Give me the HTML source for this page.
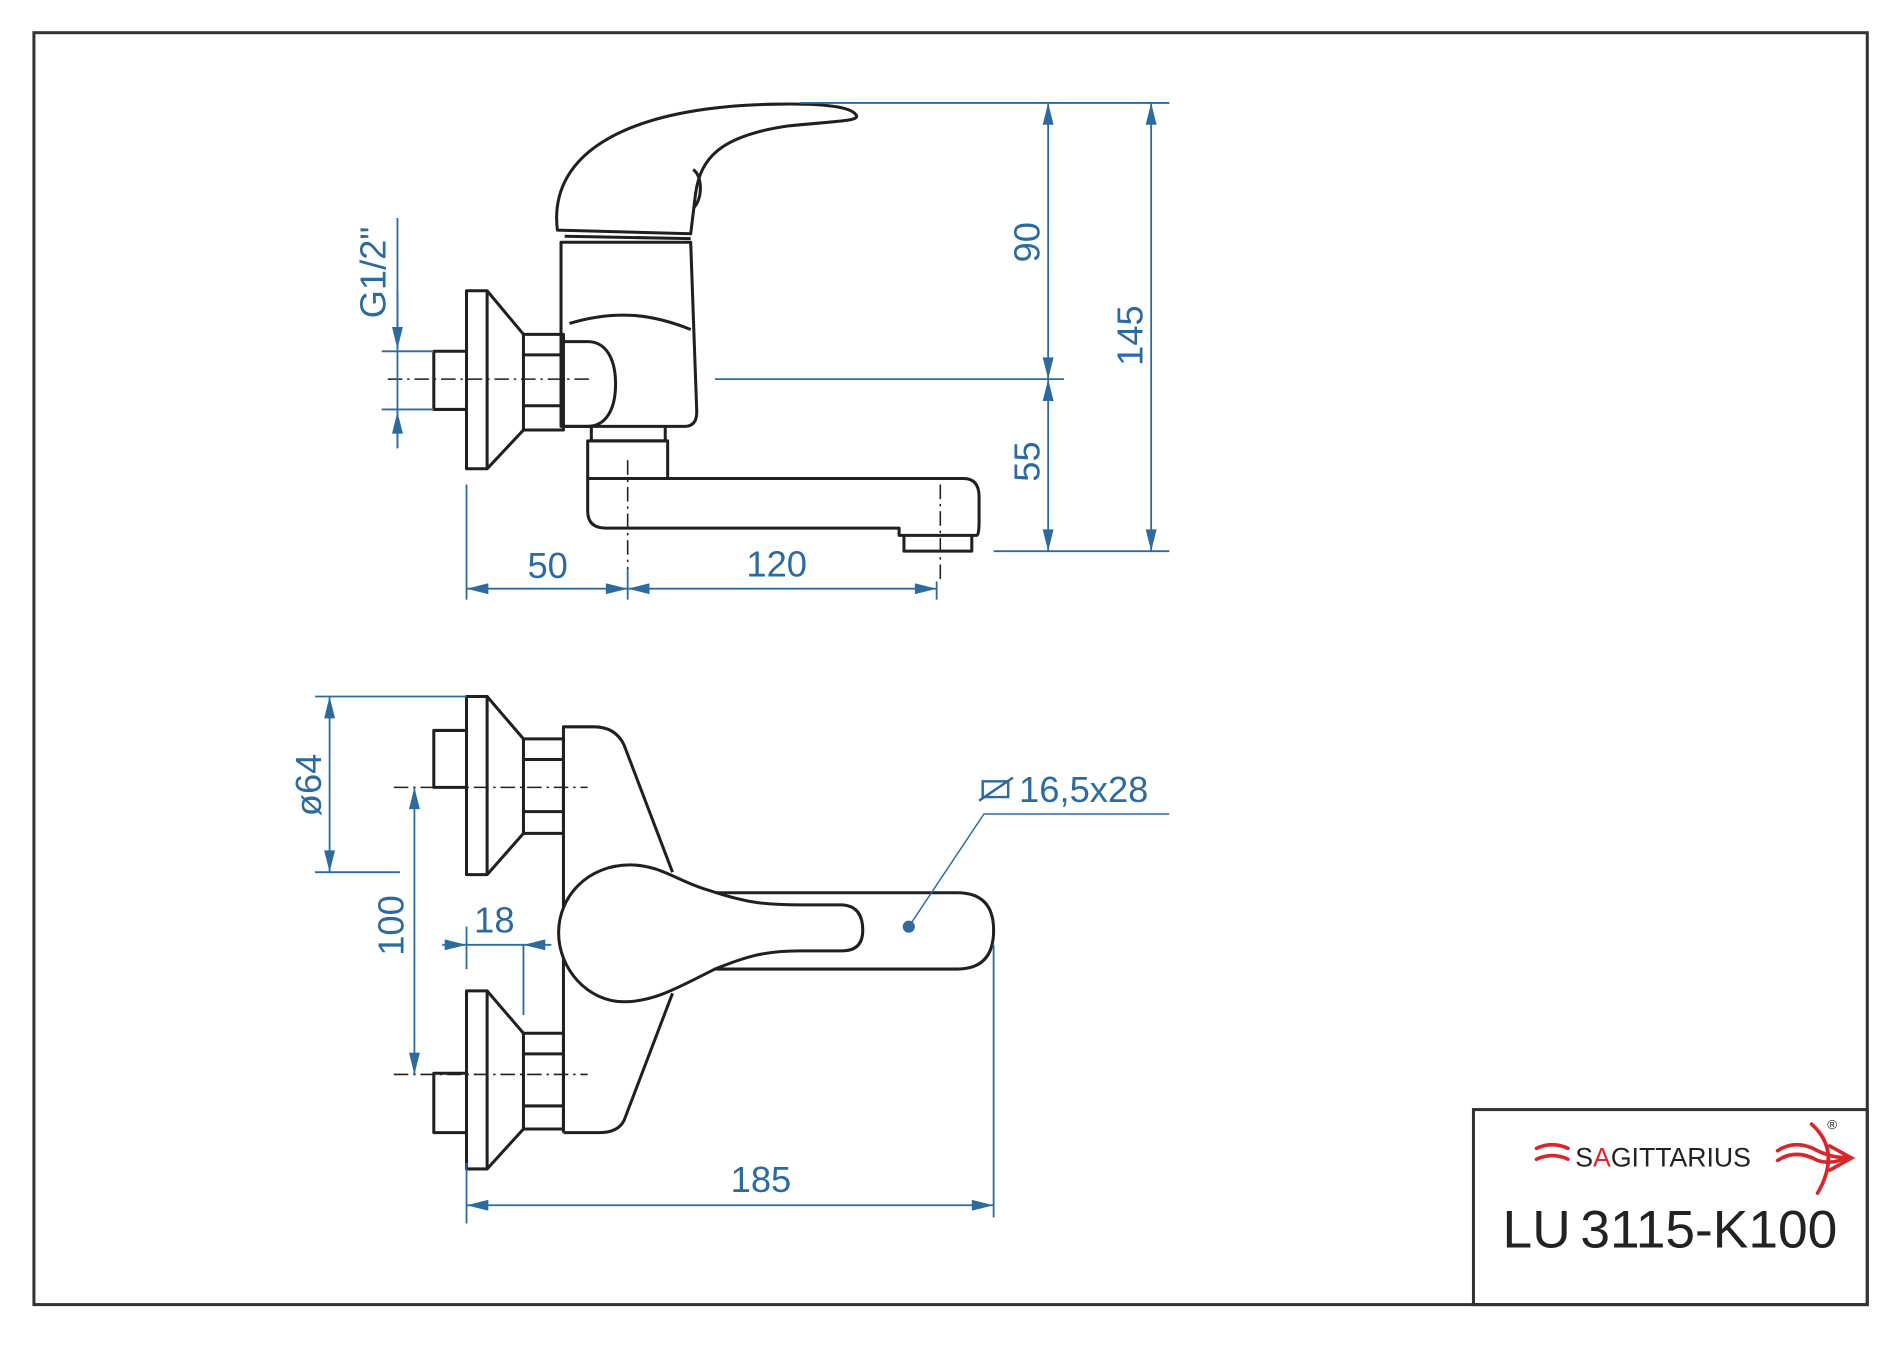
<!DOCTYPE html>
<html><head><meta charset="utf-8"><style>
html,body{margin:0;padding:0;background:#fff;}
svg{display:block;}
text{font-family:"Liberation Sans",Arial,sans-serif;}
</style></head><body>
<svg width="1900" height="1347" viewBox="0 0 1568 1112" preserveAspectRatio="none" xmlns="http://www.w3.org/2000/svg">
<defs>
<marker id="b" viewBox="0 0 20 10" refX="20" refY="5" markerWidth="20" markerHeight="9" orient="auto-start-reverse" markerUnits="userSpaceOnUse"><path d="M0,0L20,5L0,10z" fill="#2c6aa0"/></marker>
</defs>
<rect x="28" y="27" width="1513" height="1050" fill="none" stroke="#333" stroke-width="2.5"/>
<rect x="1216" y="916" width="325" height="161" fill="none" stroke="#333" stroke-width="2.5"/>

<g fill="none" stroke="#231f20" stroke-width="2.5" stroke-linejoin="round">
<!-- TOP VIEW -->
<path d="M460,190 C452,125 520,88 640,86 C690,85 705,90 707,96 C707,100 690,100 650,104 C595,112 578,130 574,160 L570,193 Z"/>
<path d="M572,140 C580,145 580,165 572,172"/>
<path d="M466,195 L570,197"/>
<path d="M463,200 L570,200 L575,340 Q575,352 565,352 L463,352 Z"/>
<path d="M470,267 C510,255 540,260 570,272"/>
<path d="M465,282 L485,282 C500,282 508,296 508,317 C508,338 500,352 485,352 L465,352"/>
<path d="M432,276 L465,276 L465,355 L432,355 Z M432,293 L465,293 M432,335 L465,335"/>
<path d="M385,240 L402,240 L402,387 L385,387 Z"/>
<path d="M402,240 L432,276 M402,387 L432,355"/>
<path d="M385,290 L358,290 L358,338 L385,338"/>
<path d="M488,352 L488,364 L549,364 L549,352"/>
<path d="M485,364 L551,364 L551,395 L485,395 Z"/>
<path d="M485,395 L485,422 Q485,436 500,436 L742,436 L742,442 L802,442 L806,442 Q808,442 808,430 L808,410 Q808,395 795,395 L551,395"/>
<path d="M746,442 L746,455 L802,455 L802,442"/>
<!-- BOTTOM VIEW -->
<path d="M385,575 L402,575 L402,722 L385,722 Z"/>
<path d="M402,575 L432,610 M402,722 L432,688"/>
<path d="M432,610 L465,610 L465,688 L432,688 Z M432,627 L465,627 M432,670 L465,670"/>
<path d="M385,603 L358,603 L358,650 L385,650"/>
<path d="M385,818 L402,818 L402,965 L385,965 Z"/>
<path d="M402,818 L432,853 M402,965 L432,932"/>
<path d="M432,853 L465,853 L465,932 L432,932 Z M432,870 L465,870 M432,913 L465,913"/>
<path d="M385,886 L358,886 L358,935 L385,935"/>
<path d="M465,935 L465,600 L490,600 Q508,600 515,615 L555,720"/>
<path d="M555,820 L515,925 Q510,935 495,935 L465,935"/>
<path d="M580,737 L790,737 Q820,737 820,768 Q820,800 790,800 L580,800"/>
<path fill="#fff" d="M520,714 C545,714 560,728 585,735 C615,745 630,747 660,747 L695,747 Q712,748 712,768 Q712,785 695,785 L660,785 C630,785 615,790 590,800 C560,815 540,827 515,827 C485,827 461,800 461,770 C461,740 485,714 520,714 Z"/>
</g>

<!-- centerlines -->
<g stroke="#231f20" stroke-width="1.3" stroke-dasharray="12,4,2,4" fill="none">
<path d="M320,313 L490,313"/>
<path d="M518,380 L518,470"/>
<path d="M776,400 L776,482"/>
<path d="M325,650 L485,650"/>
<path d="M325,887 L485,887"/>
</g>

<!-- dimensions -->
<g stroke="#2c6aa0" stroke-width="1.5" fill="none">
<path d="M328,180 L328,370"/>
<path d="M328,240 L328,288" marker-end="url(#b)"/>
<path d="M328,370 L328,340" marker-end="url(#b)"/>
<path d="M315,290 L358,290 M315,338 L358,338"/>
<path d="M660,85 L965,85 M590,313 L878,313 M820,455 L965,455"/>
<path d="M865,313 L865,85" marker-end="url(#b)" marker-start="url(#b)"/>
<path d="M865,313 L865,455" marker-end="url(#b)" marker-start="url(#b)"/>
<path d="M950,85 L950,455" marker-end="url(#b)" marker-start="url(#b)"/>
<path d="M385,400 L385,495 M518,470 L518,495 M773,480 L773,495"/>
<path d="M385,486 L518,486" marker-end="url(#b)" marker-start="url(#b)"/>
<path d="M518,486 L773,486" marker-end="url(#b)" marker-start="url(#b)"/>
<path d="M260,575 L385,575 M260,720 L330,720"/>
<path d="M272,575 L272,720" marker-end="url(#b)" marker-start="url(#b)"/>
<path d="M342,650 L342,887" marker-end="url(#b)" marker-start="url(#b)"/>
<path d="M365,780 L385,780" marker-end="url(#b)"/>
<path d="M455,780 L432,780" marker-end="url(#b)"/>
<path d="M385,765 L385,800 M432,780 L432,838 M385,780 L432,780"/>
<path d="M385,960 L385,1010 M820,780 L820,1005"/>
<path d="M385,995 L820,995" marker-end="url(#b)" marker-start="url(#b)"/>
<path d="M750,765 L812,672 L965,672" stroke-width="1.2"/>
<path d="M811,645 L832,645 L832,658 L811,658 Z M808,661 L836,642" stroke-width="2"/>
</g>
<circle cx="750" cy="765" r="5" fill="#2c6aa0"/>

<g fill="#2c6aa0" font-size="30">
<text x="318" y="225" transform="rotate(-90 318 225)" text-anchor="middle">G1/2"</text>
<text x="858" y="200" transform="rotate(-90 858 200)" text-anchor="middle">90</text>
<text x="943" y="277" transform="rotate(-90 943 277)" text-anchor="middle">145</text>
<text x="858" y="381" transform="rotate(-90 858 381)" text-anchor="middle">55</text>
<text x="452" y="477" text-anchor="middle">50</text>
<text x="641" y="476" text-anchor="middle">120</text>
<text x="265" y="648" transform="rotate(-90 265 648)" text-anchor="middle">ø64</text>
<text x="333" y="764" transform="rotate(-90 333 764)" text-anchor="middle">100</text>
<text x="408" y="770" text-anchor="middle">18</text>
<text x="628" y="984" text-anchor="middle">185</text>
<text x="841" y="662">16,5x28</text>
</g>

<!-- logo -->
<g fill="none" stroke="#d9262b" stroke-width="3" stroke-linecap="round">
<path d="M1268,948 Q1281,942 1294,948 M1268,957 Q1281,951 1294,957"/>
<path d="M1467,950 Q1482,940 1500,950 Q1515,957 1525,955 M1467,958 Q1482,948 1500,958 Q1512,962 1525,955"/>
<path d="M1510,946 L1528,956 L1510,966"/>
<path d="M1495,928 Q1520,950 1500,985"/>
</g>
<text x="1300" y="963" font-size="22" fill="#222">S<tspan fill="#d9262b">A</tspan>GITTARIUS</text>
<text x="1508" y="932" font-size="11" fill="#222">®</text>
<text x="1240" y="1030" font-size="44" fill="#222">LU<tspan dx="8">3115-K100</tspan></text>
</svg>
</body></html>
